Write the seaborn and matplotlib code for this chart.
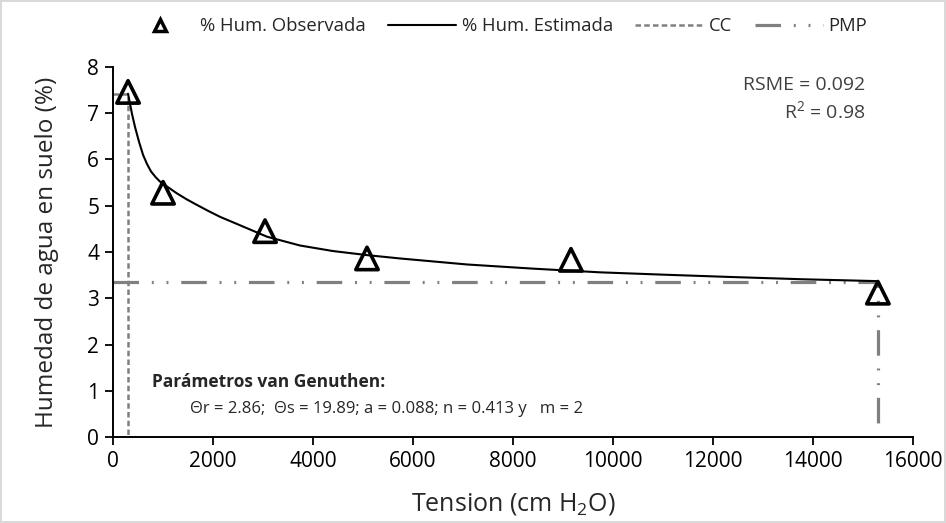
import matplotlib
matplotlib.use("Agg")
import matplotlib.pyplot as plt
import seaborn as sns
import pandas as pd
from matplotlib.lines import Line2D

# Observed data
tension_obs = [300, 1000, 3040, 5080, 9160, 15300]
hum_obs = [7.46, 5.28, 4.45, 3.86, 3.83, 3.12]

# Estimated curve
tension_est = [300, 340, 380, 440, 520, 600, 680, 760, 850, 940, 1100, 1273, 1470, 1673, 1900,
               2140, 2600, 3080, 3740, 4400, 5100, 5740, 7080, 8400, 9740, 11000, 12340,
               13800, 15300]
hum_est = [7.42, 7.20, 6.98, 6.70, 6.38, 6.10, 5.90, 5.74, 5.62, 5.52, 5.40, 5.27, 5.14, 5.02,
           4.89, 4.76, 4.55, 4.33, 4.14, 4.02, 3.93, 3.86, 3.73, 3.64, 3.56, 3.51, 3.46,
           3.41, 3.37]

# CC and PMP reference lines
cc_x = [0, 300, 300]
cc_y = [7.42, 7.42, 0]
pmp_x = [0, 15300, 15300]
pmp_y = [3.36, 3.36, 0]

x_ticks = [0, 2000, 4000, 6000, 8000, 10000, 12000, 14000, 16000]
y_ticks = [0, 1, 2, 3, 4, 5, 6, 7, 8]

sns.set_theme(style="white")
plt.rcParams['font.family'] = ['Open Sans', 'DejaVu Sans']
plt.rcParams['mathtext.fontset'] = 'custom'
plt.rcParams['mathtext.rm'] = 'Open Sans'

fig = plt.figure(figsize=(9.46, 5.23), dpi=100)
fig.patch.set_edgecolor('#d9d9d9')
fig.patch.set_linewidth(1.5)
ax = fig.add_axes([0.1195, 0.1644, 0.8455, 0.7076])

gray = '#808080'
ax.plot(cc_x, cc_y, color=gray, lw=1.8, dashes=(2.2, 1.3), zorder=1)
ax.plot(pmp_x, pmp_y, color=gray, lw=2.3, dashes=(8, 4, 0.6, 4, 0.6, 4), zorder=1)

df_est = pd.DataFrame({'t': tension_est, 'h': hum_est})
sns.lineplot(data=df_est, x='t', y='h', ax=ax, color='black', lw=1.5, zorder=2, sort=False)

df_obs = pd.DataFrame({'t': tension_obs, 'h': hum_obs})
sns.scatterplot(data=df_obs, x='t', y='h', ax=ax, marker='^', s=260,
                facecolor='none', edgecolor='black', linewidth=2.6, zorder=3)

ax.set_xlim(0, 16000)
ax.set_ylim(0, 8)
ax.set_xticks(x_ticks)
ax.set_yticks(y_ticks)
ax.tick_params(axis='both', labelsize=15, colors='black', direction='out', length=6, width=1.3,
               bottom=True, left=True, pad=4)
for s in ['top', 'right']:
    ax.spines[s].set_visible(False)
for s in ['left', 'bottom']:
    ax.spines[s].set_color('black')
    ax.spines[s].set_linewidth(1.4)

ax.set_xlabel('Tension (cm H$_2$O)', fontsize=18, labelpad=14)
ax.set_ylabel('Humedad de agua en suelo (%)', fontsize=17.5, labelpad=20)

ax.text(0.941, 0.951, 'RSME = 0.092', transform=ax.transAxes, ha='right', va='center',
        fontsize=14, color='#404040')
ax.text(0.941, 0.878, 'R$^2$ = 0.98', transform=ax.transAxes, ha='right', va='center',
        fontsize=14, color='#404040')

ax.text(780, 1.19, 'Parámetros van Genuthen:', fontsize=12.5, fontweight='bold', va='center')
ax.text(1540, 0.60, 'Θr = 2.86;  Θs = 19.89; a = 0.088; n = 0.413 y   m = 2', fontsize=12, va='center')

handles = [
    Line2D([], [], marker='^', ls='none', markerfacecolor='none', markeredgecolor='black',
           markeredgewidth=2.5, markersize=8),
    Line2D([], [], color='black', lw=1.5),
    Line2D([], [], color=gray, lw=1.8, dashes=(2.2, 1.3)),
    Line2D([], [], color=gray, lw=2.3, dashes=(8, 4, 0.6, 4, 0.6, 4)),
]
labels = ['% Hum. Observada', '% Hum. Estimada', 'CC', 'PMP']
fig.legend(handles, labels, loc='center', bbox_to_anchor=(0.525, 0.95), ncol=4, frameon=False,
           fontsize=13.3, handlelength=3.7, columnspacing=1.2, handletextpad=0.3)

fig.savefig('out.png', dpi=100, edgecolor=fig.get_edgecolor())
